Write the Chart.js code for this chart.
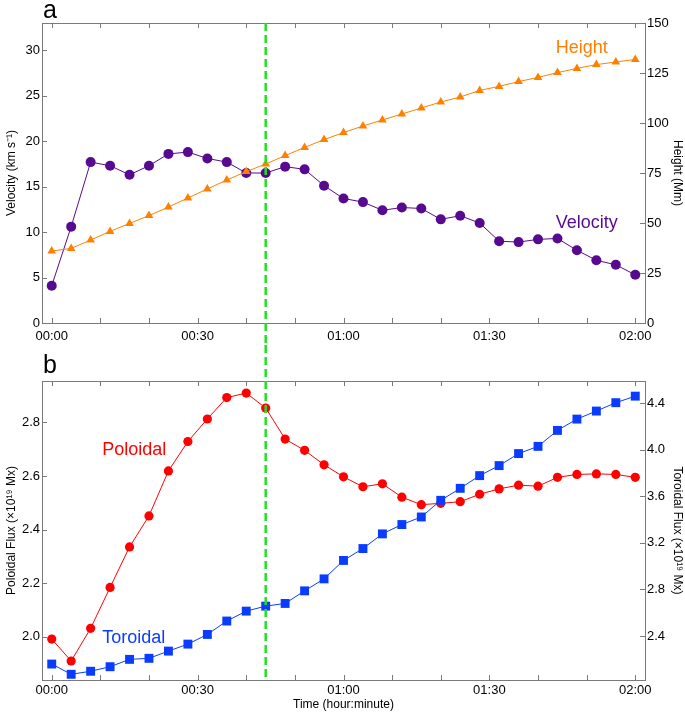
<!DOCTYPE html>
<html>
<head>
<meta charset="utf-8">
<script src="https://cdn.jsdelivr.net/npm/chart.js@4.4.0/dist/chart.umd.min.js"></script>
<style>
    body { margin: 0; background: #fff; }
    canvas { position: absolute; left: 0; }
    #chartA { top: 0; }
    #chartB { top: 345px; }
</style>
</head>
<body>
<canvas id="chartA" width="685" height="345"></canvas>
<canvas id="chartB" width="685" height="368"></canvas>
<script>
// time of each sample, minutes after 00:00
var minutes = [0, 4, 8, 12, 16, 20, 24, 28, 32, 36, 40, 44, 48, 52, 56, 60,
    64, 68, 72, 76, 80, 84, 88, 92, 96, 100, 104, 108, 112, 116, 120];

// panel a
var velocity = [4.1, 10.6, 17.7, 17.3, 16.3, 17.3, 18.6, 18.8, 18.1, 17.7, 16.5, 16.5, 17.2, 16.9, 15.1, 13.7,
    13.3, 12.4, 12.7, 12.6, 11.4, 11.8, 11.0, 9.0, 8.9, 9.2, 9.3, 8.0, 6.9, 6.4, 5.3];
var height = [36, 37.3, 41.5, 45.8, 49.8, 53.7, 58, 62.5, 67, 71.5, 75.7, 79.5, 83.7, 87.8, 91.7, 95.2,
    98.5, 101.5, 104.5, 107.5, 110.5, 113, 116.3, 118.3, 120.7, 122.8, 125.2, 127.3, 129.2, 130.5, 131.8];

// panel b
var poloidal = [1.991, 1.909, 2.031, 2.184, 2.335, 2.451, 2.619, 2.729, 2.813, 2.893, 2.910, 2.854, 2.738, 2.696, 2.642, 2.597,
    2.560, 2.571, 2.521, 2.493, 2.498, 2.504, 2.532, 2.552, 2.566, 2.562, 2.595, 2.606, 2.608, 2.606, 2.595];
var toroidal = [2.160, 2.072, 2.098, 2.137, 2.200, 2.209, 2.271, 2.331, 2.414, 2.529, 2.614, 2.657, 2.680, 2.788, 2.891, 3.049,
    3.151, 3.277, 3.357, 3.422, 3.565, 3.668, 3.777, 3.863, 3.966, 4.028, 4.165, 4.262, 4.331, 4.403, 4.459];

// ticks
var xTickValues = [0, 30, 60, 90, 120];
var xTickLabels = ['00:00', '00:30', '01:00', '01:30', '02:00'];
var xMinorTicks = [0, 10, 20, 30, 40, 50, 60, 70, 80, 90, 100, 110, 120];
var velocityTicks = [0, 5, 10, 15, 20, 25, 30];
var heightTicks = [0, 25, 50, 75, 100, 125, 150];
var poloidalTicks = [2.0, 2.2, 2.4, 2.6, 2.8];
var toroidalTicks = [2.4, 2.8, 3.2, 3.6, 4.0, 4.4];

// the dashed green marker time
var markerMinute = 44;

var FONT = "'Liberation Sans', Arial, Helvetica, sans-serif";
var frameColor = '#7a7a7a';

function points(ys) {
    return minutes.map(function(m, i) { return {x: m, y: ys[i]}; });
}

function xAxis(showTitle, pad) {
    return {
        type: 'linear', min: -2, max: 122,
        grid: {display: false, drawTicks: false}, border: {display: false},
        afterBuildTicks: function(s) { s.ticks = xTickValues.map(function(v) { return {value: v}; }); },
        afterFit: function(s) { s.height = showTitle ? 33 : 22; },
        ticks: {
            padding: pad, color: '#000', maxRotation: 0, autoSkip: false,
            font: {family: FONT, size: 13},
            callback: function(v) { return xTickLabels[xTickValues.indexOf(v)]; }
        },
        title: {display: showTitle, text: 'Time (hour:minute)', color: '#000',
            font: {family: FONT, size: 12}, padding: {top: 0, bottom: 1}}
    };
}

function yAxis(pos, min, max, tickValues, digits, title) {
    return {
        type: 'linear', position: pos, min: min, max: max,
        grid: {display: false, drawTicks: false}, border: {display: false},
        afterBuildTicks: function(s) { s.ticks = tickValues.map(function(v) { return {value: v}; }); },
        afterFit: function(s) { s.width = pos == 'left' ? 42 : 40; },
        ticks: {
            padding: 2, color: '#000', font: {family: FONT, size: 13},
            callback: function(v) { return v.toFixed(digits); }
        },
        title: {display: true, text: title, color: '#000', font: {family: FONT, size: 12},
            padding: pos == 'left' ? {top: 4, bottom: 0} : {top: 0, bottom: 0}}
    };
}

function series(label, ys, axis, color, style, radius) {
    return {
        label: label, data: points(ys), yAxisID: axis,
        borderColor: color, backgroundColor: color, borderWidth: 1,
        pointStyle: style, pointRadius: radius, pointBorderWidth: 0,
        pointBackgroundColor: color, tension: 0, clip: false
    };
}

// box, inward ticks, dashed marker and the in-plot texts
var framePlugin = {
    id: 'frame',
    afterDatasetsDraw: function(chart, args, opts) {
        var ctx = chart.ctx, a = chart.chartArea;
        var sx = chart.scales.x, yl = chart.scales.yL, yr = chart.scales.yR;

        ctx.save();
        ctx.strokeStyle = frameColor;
        ctx.lineWidth = 1;
        ctx.strokeRect(a.left + 0.5, a.top + 0.5, a.right - a.left, a.bottom - a.top);
        ctx.beginPath();
        xMinorTicks.forEach(function(m) {
            var px = Math.round(sx.getPixelForValue(m)) + 0.5;
            ctx.moveTo(px, a.top); ctx.lineTo(px, a.top + 5);
            ctx.moveTo(px, a.bottom); ctx.lineTo(px, a.bottom - 5);
        });
        yl.ticks.forEach(function(t) {
            var py = Math.round(yl.getPixelForValue(t.value)) + 0.5;
            ctx.moveTo(a.left, py); ctx.lineTo(a.left + 5, py);
        });
        yr.ticks.forEach(function(t) {
            var py = Math.round(yr.getPixelForValue(t.value)) + 0.5;
            ctx.moveTo(a.right, py); ctx.lineTo(a.right - 5, py);
        });
        ctx.stroke();

        // dashed green line runs on through the gap between the panels
        var gx = sx.getPixelForValue(markerMinute);
        ctx.strokeStyle = '#22e022';
        ctx.lineWidth = 2.5;
        ctx.setLineDash([8, 4]);
        ctx.beginPath();
        ctx.moveTo(gx, opts.lineFromTop ? 0 : a.top);
        ctx.lineTo(gx, opts.lineFromTop ? a.bottom : chart.height);
        ctx.stroke();
        ctx.setLineDash([]);

        // panel letter
        ctx.fillStyle = '#000';
        ctx.font = '25px ' + FONT;
        ctx.textAlign = 'left';
        ctx.textBaseline = 'alphabetic';
        ctx.fillText(opts.letter, a.left + 1, opts.letterY);

        // series names
        ctx.font = '18px ' + FONT;
        opts.texts.forEach(function(t) {
            ctx.fillStyle = t.color;
            ctx.textAlign = t.align;
            var scaleY = chart.scales[t.axis];
            ctx.fillText(t.text, sx.getPixelForValue(t.x), scaleY.getPixelForValue(t.y));
        });
        ctx.restore();
    }
};

var common = {
    responsive: false,
    animation: false,
    events: [],
    plugins: {legend: {display: false}, tooltip: {enabled: false}}
};

new Chart(document.getElementById('chartA'), {
    type: 'line',
    data: {
        datasets: [
            series('Height', height, 'yR', '#ff8000', 'triangle', 5),
            series('Velocity', velocity, 'yL', '#570a8f', 'circle', 5)
        ]
    },
    options: Object.assign({}, common, {
        layout: {padding: {top: 23, left: 0, right: 0, bottom: 0}},
        scales: {
            x: xAxis(false, 6),
            yL: yAxis('left', 0, 33, velocityTicks, 0, 'Velocity (km s\u207B\u00B9)'),
            yR: yAxis('right', 0, 150, heightTicks, 0, 'Height (Mm)')
        },
        plugins: Object.assign({}, common.plugins, {
            frame: {
                letter: 'a', letterY: 18, lineFromTop: false,
                texts: [
                    {text: 'Height', x: 109, y: 135, axis: 'yR', color: '#ff8000', align: 'center'},
                    {text: 'Velocity', x: 110, y: 10.4, axis: 'yL', color: '#570a8f', align: 'center'}
                ]
            }
        })
    }),
    plugins: [framePlugin]
});

new Chart(document.getElementById('chartB'), {
    type: 'line',
    data: {
        datasets: [
            series('Toroidal', toroidal, 'yR', '#0a3cff', 'rect', 6.3),
            series('Poloidal', poloidal, 'yL', '#ff0000', 'circle', 4.6)
        ]
    },
    options: Object.assign({}, common, {
        layout: {padding: {top: 36, left: 0, right: 0, bottom: 0}},
        scales: {
            x: xAxis(true, 3),
            yL: yAxis('left', 1.838, 2.955, poloidalTicks, 1, 'Poloidal Flux (\u00D710\u00B9\u2079 Mx)'),
            yR: yAxis('right', 2.023, 4.589, toroidalTicks, 1, 'Toroidal Flux (\u00D710\u00B9\u2079 Mx)')
        },
        plugins: Object.assign({}, common.plugins, {
            frame: {
                letter: 'b', letterY: 28, lineFromTop: true,
                texts: [
                    {text: 'Poloidal', x: 10.4, y: 2.678, axis: 'yL', color: '#ff0000', align: 'left'},
                    {text: 'Toroidal', x: 10.4, y: 2.34, axis: 'yR', color: '#0a3cff', align: 'left'}
                ]
            }
        })
    }),
    plugins: [framePlugin]
});
</script>
</body>
</html>
